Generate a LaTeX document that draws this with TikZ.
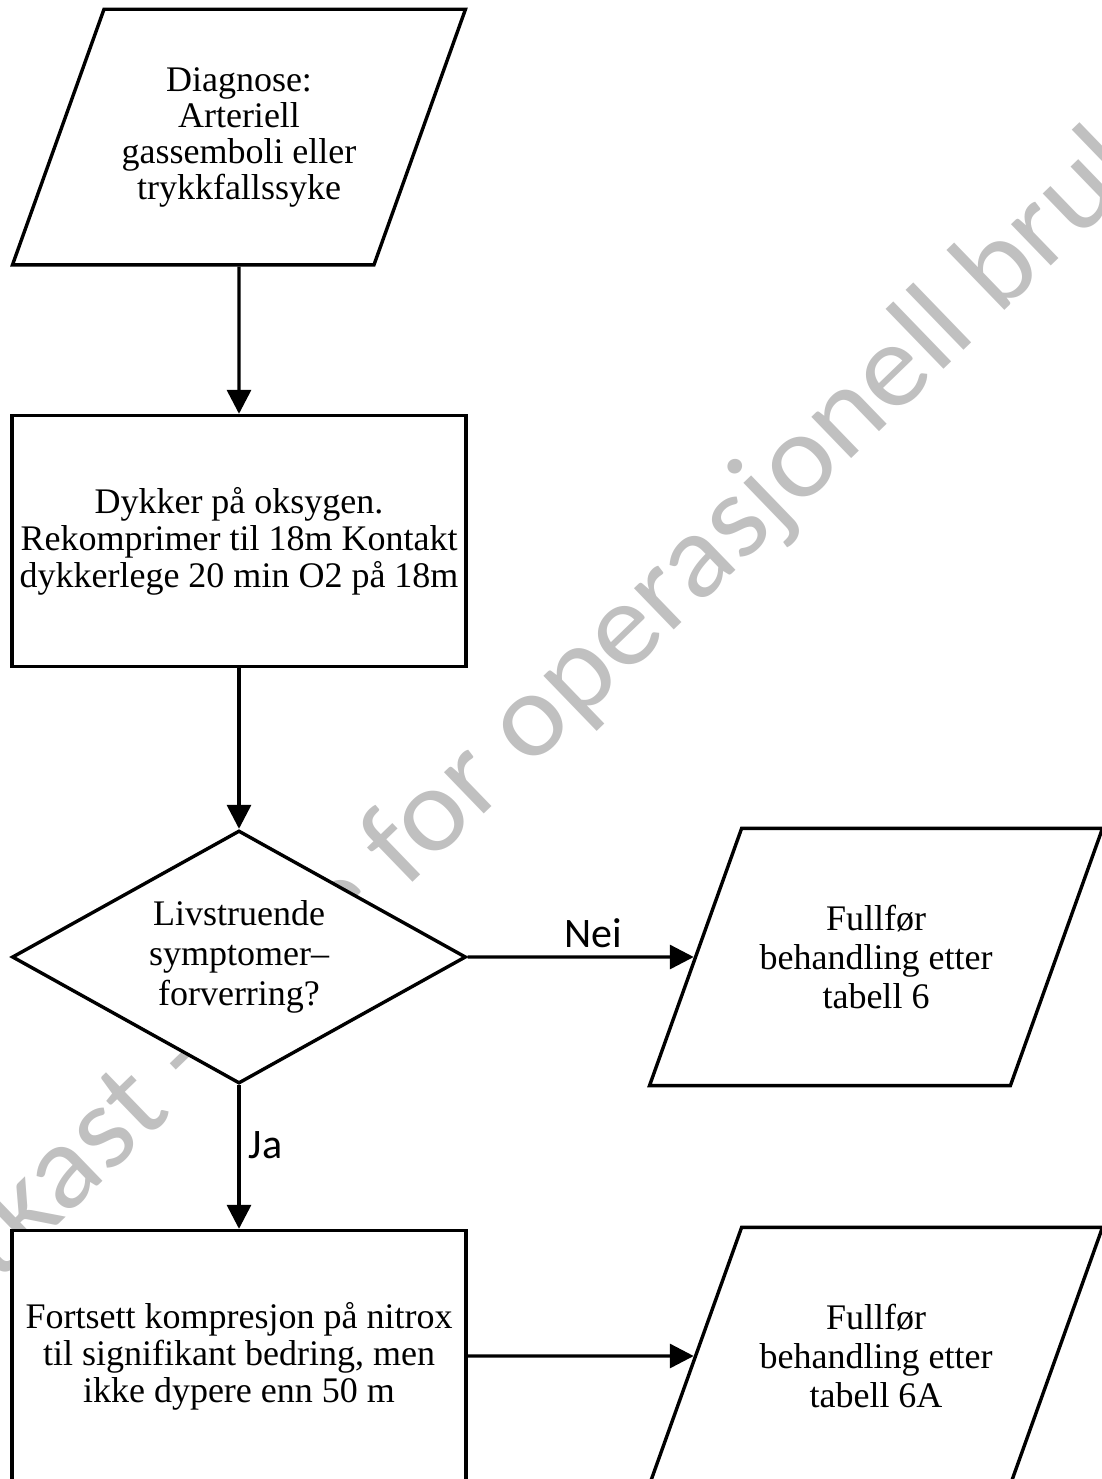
\documentclass[tikz,border=0pt]{standalone}
\usepackage{fontspec}
\setmainfont{Liberation Serif}
\newfontfamily\labelfont{Carlito}
\usetikzlibrary{shapes.geometric,positioning,arrows.meta}
\definecolor{wmgray}{RGB}{192,192,192}

\begin{document}
\begin{tikzpicture}[node distance=200pt, on grid, line width=1.7pt,
    >={Triangle[length=12pt,width=12pt]},
    io/.style={trapezium, trapezium left angle=70.3, trapezium right angle=109.7,
        trapezium stretches body, minimum width=226.5pt,
        inner xsep=0pt, draw, fill=white, align=center,
        font=\fontsize{18}{19.5}\selectfont},
    proc/.style={rectangle, draw, fill=white, minimum width=227pt,
        minimum height=125.5pt, inner sep=1pt, align=center,
        font=\fontsize{18}{18.5}\selectfont},
    decision/.style={diamond, draw, fill=white, minimum width=227pt,
        minimum height=126.5pt, inner sep=0pt, aspect=1.8, align=center,
        font=\fontsize{18}{20}\selectfont},
    answer/.style={font=\labelfont\fontsize{21}{24}\selectfont, inner sep=4pt},
    watermark/.style={anchor=base, rotate=44, xscale=1.04, text=wmgray,
        font=\labelfont\fontsize{60}{60}\selectfont}]
    \useasboundingbox (0,0) rectangle (551pt,-739.5pt);

    % watermark under the chart
    \node[watermark] (utkast) at (276pt,-374pt) {Utkast - ikke for operasjonell bruk};

    \node[io, inner ysep=29pt, font=\fontsize{18}{18}\selectfont] (diag) at (119.5pt,-68.5pt)
        {Diagnose:\\Arteriell\\gassemboli eller\\trykkfallssyke};
    \node[proc] (rekomp) [below=202pt of diag] {Dykker på oksygen.\\Rekomprimer til 18m Kontakt\\dykkerlege 20 min O2 på 18m};
    \node[decision] (vurder) [below=208pt of rekomp] {Livstruende\\symptomer–\\forverring?};
    \node[io, inner ysep=38.4pt] (tab6) [right=318.5pt of vurder] {Fullfør\\behandling etter\\tabell 6};
    \node[proc] (fortsett) [below=199.5pt of vurder] {Fortsett kompresjon på nitrox\\til signifikant bedring, men\\ikke dypere enn 50 m};
    \node[io, inner ysep=38.4pt] (tab6a) [right=318.5pt of fortsett] {Fullfør\\behandling etter\\tabell 6A};

    \path[->]
     (diag) edge (rekomp)
     (rekomp) edge (vurder)
     (vurder) edge node[answer, above, pos=0.555] {Nei} (tab6)
     (vurder) edge node[answer, right, pos=0.42] {Ja} (fortsett)
     (fortsett) edge (tab6a);
\end{tikzpicture}
\end{document}
